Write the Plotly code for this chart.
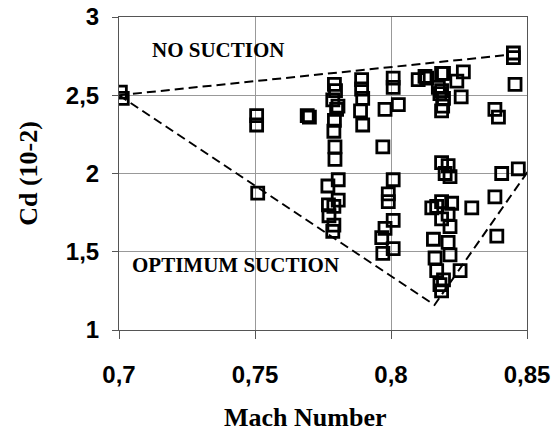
import plotly.graph_objects as go

# Drag coefficient measurements versus Mach number
mach = [
    0.7005, 0.7012,
    0.7506, 0.7506, 0.7510,
    0.7692, 0.7700,
    0.7792, 0.7796, 0.7786, 0.7805, 0.7800, 0.7792, 0.7790, 0.7794, 0.7794,
    0.7806, 0.7768, 0.7806, 0.7790, 0.7772, 0.7790, 0.7786, 0.7770,
    0.7892, 0.7892, 0.7896, 0.7888, 0.7896,
    0.8008, 0.8008, 0.7978, 0.8027, 0.7970,
    0.8008, 0.7990, 0.7990, 0.8008, 0.7978, 0.7966, 0.8008, 0.7970,
    0.8100, 0.8125, 0.8131, 0.8186, 0.8193, 0.8266, 0.8242, 0.8174, 0.8186,
    0.8180, 0.8193, 0.8258, 0.8186, 0.8190,
    0.8186, 0.8210, 0.8217, 0.8199, 0.8150, 0.8168, 0.8186, 0.8223, 0.8297,
    0.8210, 0.8186, 0.8217, 0.8156, 0.8210, 0.8217, 0.8162, 0.8168, 0.8254,
    0.8193, 0.8180, 0.8186,
    0.8450, 0.8450, 0.8456, 0.8382, 0.8395, 0.8407, 0.8468, 0.8382, 0.8389,
]
cd = [
    2.52, 2.48,
    2.37, 2.31, 1.875,
    2.37, 2.36,
    2.57, 2.53, 2.47, 2.43, 2.41, 2.34, 2.27, 2.17, 2.09,
    1.96, 1.92, 1.83, 1.79, 1.73, 1.67, 1.63, 1.80,
    2.60, 2.54, 2.48, 2.40, 2.31,
    2.61, 2.55, 2.41, 2.44, 2.17,
    1.96, 1.87, 1.82, 1.70, 1.65, 1.59, 1.52, 1.49,
    2.60, 2.62, 2.61, 2.64, 2.64, 2.65, 2.59, 2.55, 2.53,
    2.51, 2.48, 2.49, 2.40, 2.43,
    2.07, 2.05, 1.98, 2.00, 1.78, 1.79, 1.82, 1.81, 1.78,
    1.74, 1.71, 1.66, 1.58, 1.56, 1.48, 1.46, 1.38, 1.38,
    1.32, 1.29, 1.25,
    2.77, 2.74, 2.57, 2.41, 2.36, 2.00, 2.03, 1.85, 1.60,
]

# Envelope lines: drag without suction and with optimum suction
no_suction_mach = [0.700, 0.8426]
no_suction_cd = [2.50, 2.757]
optimum_mach = [0.700, 0.816, 0.851]
optimum_cd = [2.50, 1.16, 2.03]

x_ticks = [0.70, 0.75, 0.80, 0.85]
x_tick_text = ["0,7", "0,75", "0,8", "0,85"]
y_ticks = [1, 1.5, 2, 2.5, 3]
y_tick_text = ["1", "1,5", "2", "2,5", "3"]

dash_line = dict(color="black", width=2, dash="9px,5px")

fig = go.Figure()
fig.add_trace(go.Scatter(x=no_suction_mach, y=no_suction_cd, mode="lines",
                         line=dash_line, hoverinfo="skip"))
fig.add_trace(go.Scatter(x=optimum_mach, y=optimum_cd, mode="lines",
                         line=dash_line, hoverinfo="skip"))
fig.add_trace(go.Scatter(
    x=mach, y=cd, mode="markers",
    marker=dict(symbol="square-open", size=12, color="black",
                line=dict(color="black", width=2.8)),
))

label_font = dict(family="Liberation Serif", size=21, color="black", weight="bold")
fig.add_annotation(x=0.7114, y=2.786, text="NO SUCTION", showarrow=False,
                   xanchor="left", yanchor="middle", font=label_font)
fig.add_annotation(x=0.704, y=1.415, text="OPTIMUM SUCTION", showarrow=False,
                   xanchor="left", yanchor="middle", font=label_font)

tick_font = dict(family="Liberation Sans", size=24, color="black", weight="bold")
title_font = dict(family="Liberation Serif", size=26, color="black", weight="bold")

# x-axis caption, set slightly left of the plot centre
fig.add_annotation(xref="paper", yref="paper", x=0.456, y=-0.281,
                   text="Mach Number", showarrow=False,
                   xanchor="center", yanchor="middle", font=title_font)

fig.update_layout(
    width=557, height=433,
    margin=dict(l=119, r=30, t=17, b=103),
    paper_bgcolor="white", plot_bgcolor="white",
    showlegend=False,
    xaxis=dict(
        range=[0.70, 0.85], tickvals=x_ticks, ticktext=x_tick_text,
        tickfont=tick_font, ticks="outside", ticklen=8, tickcolor="#555",
        ticklabelstandoff=15, automargin=False,
        showgrid=True, gridcolor="#999", gridwidth=1,
        showline=True, linecolor="#555", linewidth=1, mirror=True,
        zeroline=False,
    ),
    yaxis=dict(
        range=[1, 3], tickvals=y_ticks, ticktext=y_tick_text,
        tickfont=tick_font, ticks="outside", ticklen=6, tickcolor="#555",
        ticklabelstandoff=8, automargin=False,
        showgrid=True, gridcolor="#999", gridwidth=1,
        showline=True, linecolor="#555", linewidth=1, mirror=True,
        zeroline=False,
        title=dict(text="Cd (10-2)", font=title_font, standoff=20),
    ),
)

fig.write_html("out.html")
